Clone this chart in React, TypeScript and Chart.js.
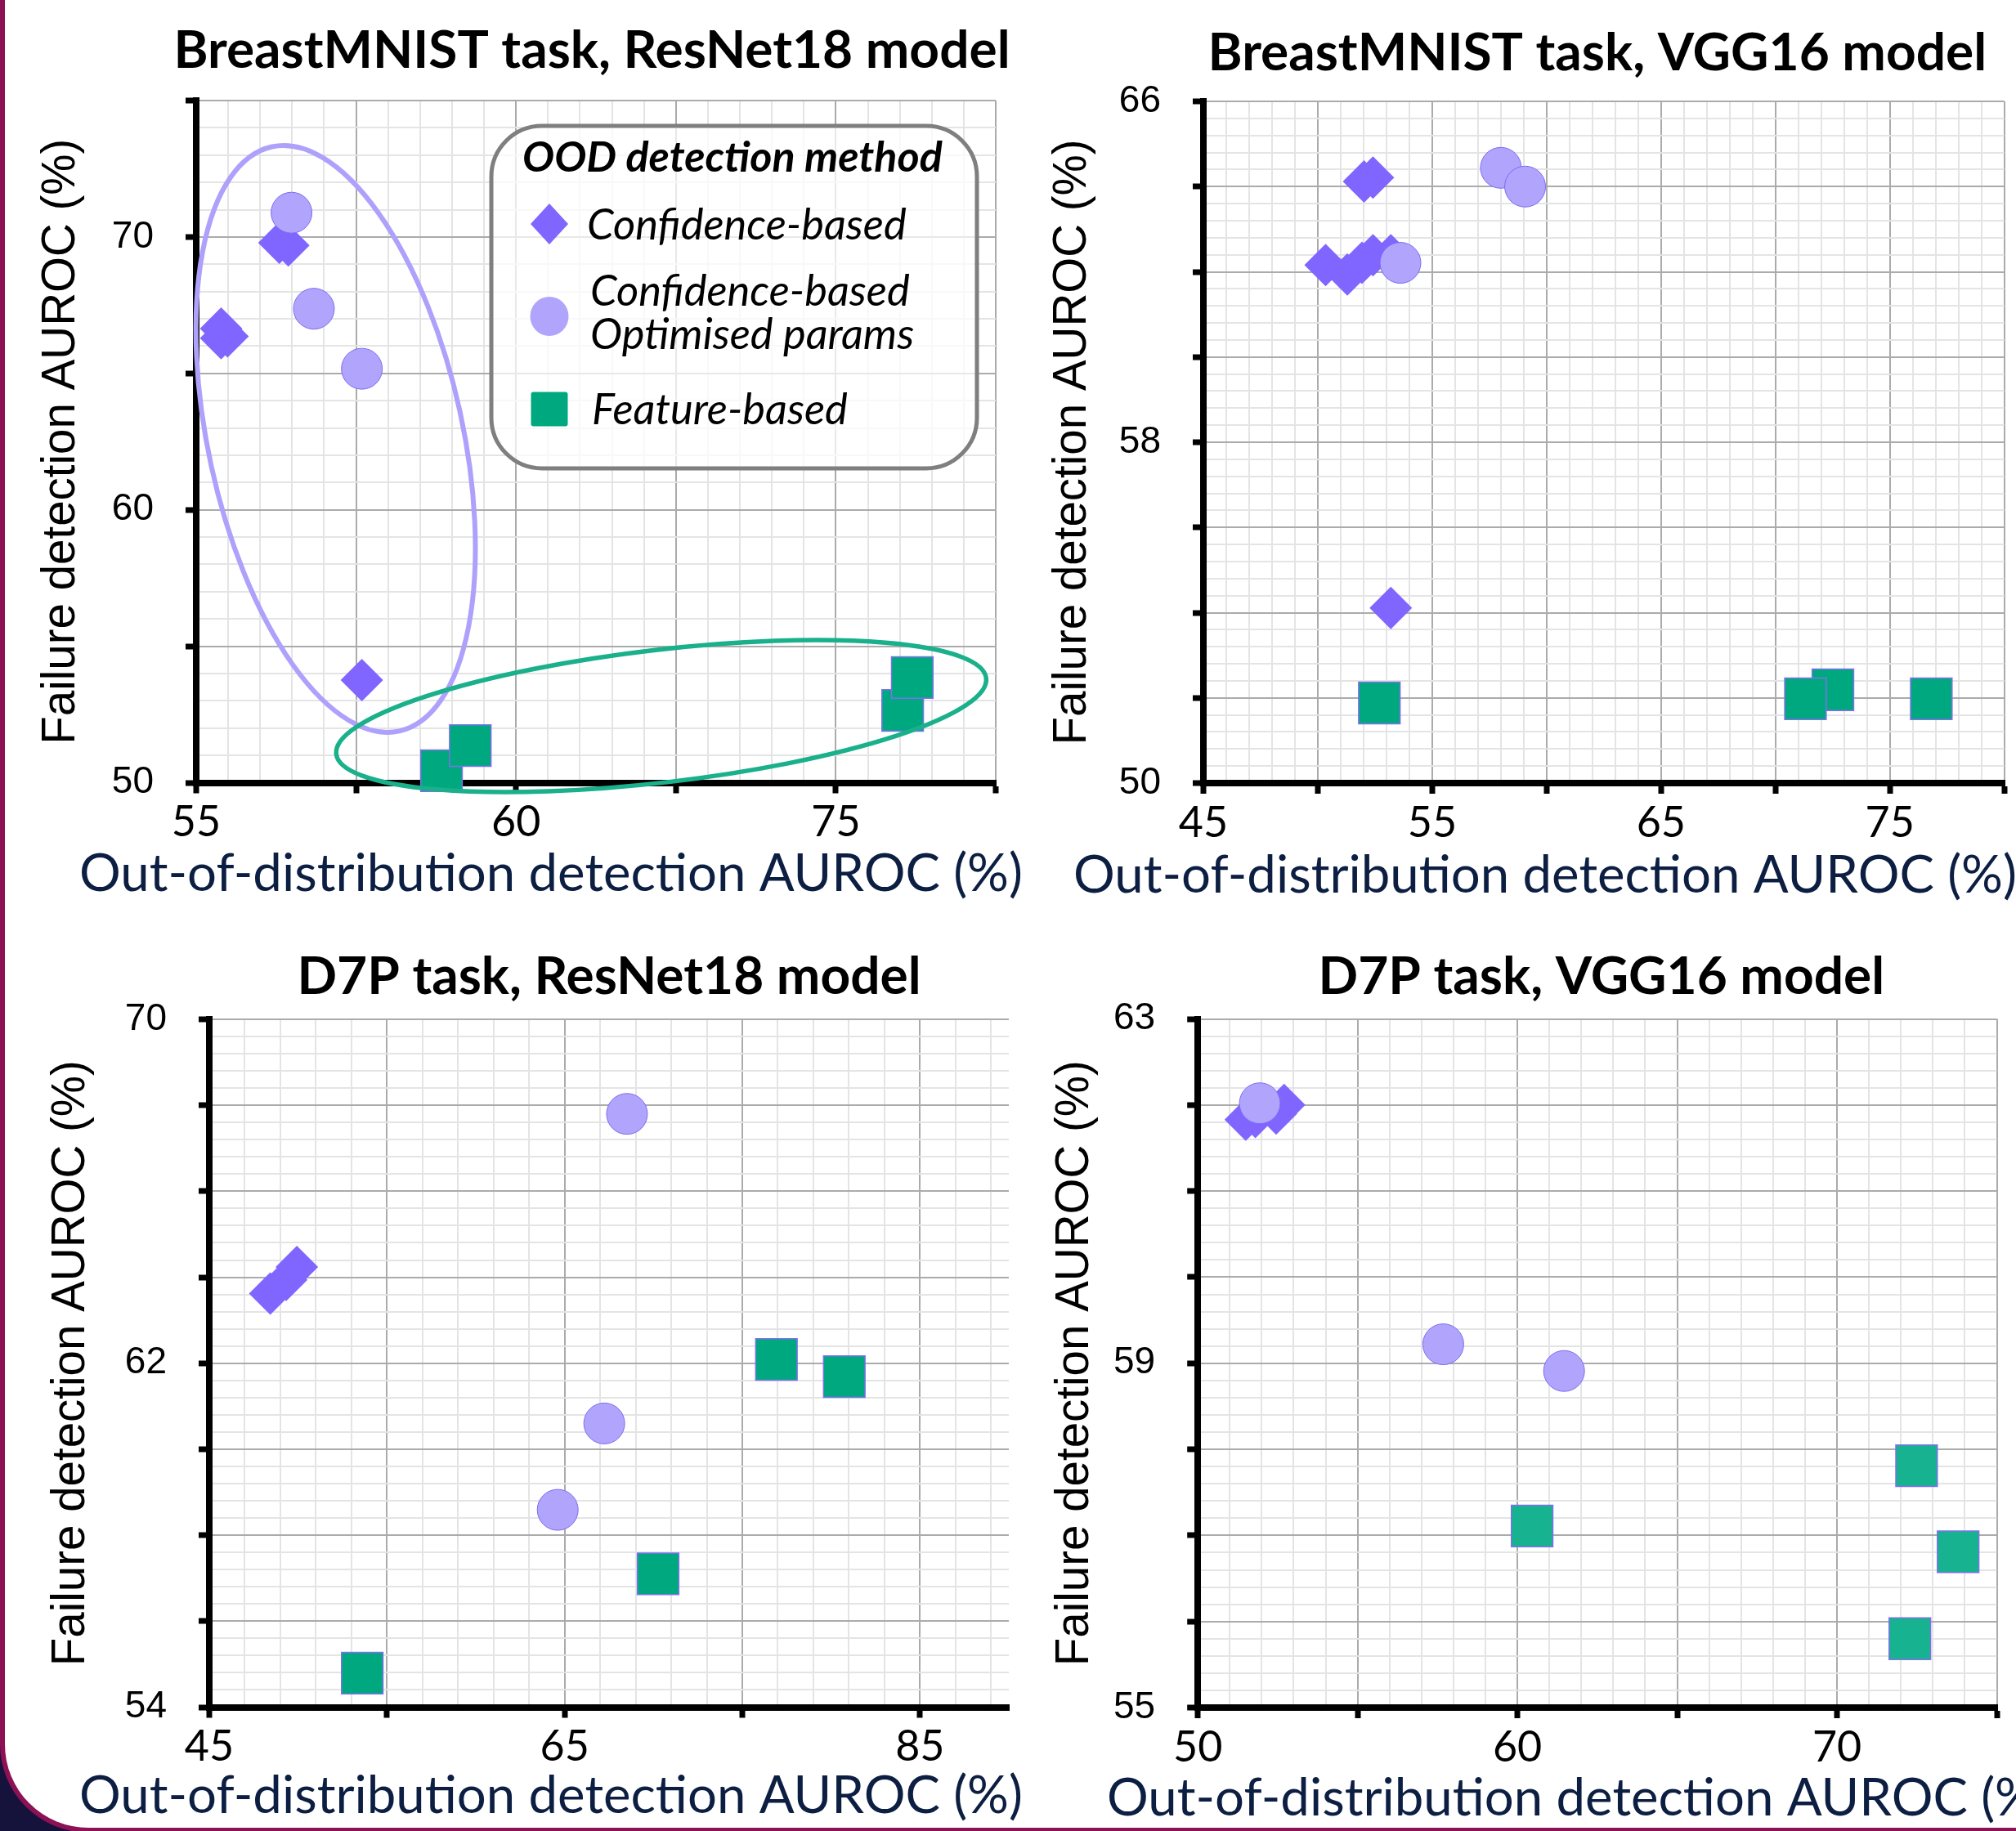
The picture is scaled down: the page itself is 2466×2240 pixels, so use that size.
import React, { useEffect, useRef } from "react";
import { Chart, registerables } from "chart.js";

Chart.register(...registerables);

// ---------------- Data ----------------
// BreastMNIST task, ResNet18 model
const A_CONF_X = [57.6, 57.88, 55.78, 55.78, 55.98, 60.18];
const A_CONF_Y = [69.79, 69.69, 66.64, 66.29, 66.36, 53.76];
const A_OPT_X = [57.98, 58.68, 60.18];
const A_OPT_Y = [70.89, 67.37, 65.17];
const A_FEAT_X = [62.67, 63.57, 77.09, 77.39];
const A_FEAT_Y = [50.44, 51.36, 52.65, 53.85];
const A_X_LABELS = ["55", "", "60", "", "75", ""];
const A_Y_LABELS = ["50", "", "60", "", "70", ""];

// BreastMNIST task, VGG16 model
const B_CONF_X = [52.02, 52.41, 50.34, 51.29, 51.93, 52.41, 53.19, 53.19];
const B_CONF_Y = [64.12, 64.21, 62.16, 61.94, 62.21, 62.39, 62.39, 54.11];
const B_OPT_X = [58.0, 59.06, 53.61];
const B_OPT_Y = [64.44, 64.0, 62.21];
const B_FEAT_X = [52.69, 72.51, 71.31, 76.81];
const B_FEAT_Y = [51.88, 52.19, 51.98, 51.98];
const B_X_LABELS = ["45", "", "55", "", "65", "", "75", ""];
const B_Y_LABELS = ["50", "", "", "", "58", "", "", "", "66"];

// D7P task, ResNet18 model
const C_CONF_X = [48.43, 49.33, 49.93];
const C_CONF_Y = [63.62, 63.94, 64.24];
const C_OPT_X = [68.51, 67.23, 64.61];
const C_OPT_Y = [67.8, 60.6, 58.59];
const C_FEAT_X = [76.92, 80.74, 70.26, 53.61];
const C_FEAT_Y = [62.09, 61.69, 57.1, 54.79];
const C_X_LABELS = ["45", "", "65", "", "85"];
const C_Y_LABELS = ["54", "", "", "", "62", "", "", "", "70"];

// D7P task, VGG16 model
const D_CONF_X = [51.5, 51.8, 52.45, 52.7];
const D_CONF_Y = [61.83, 61.86, 61.9, 62.0];
const D_OPT_X = [51.94, 57.68, 61.46];
const D_OPT_Y = [62.02, 59.22, 58.91];
const D_FEAT_X = [72.49, 60.46, 73.79, 72.28];
const D_FEAT_Y = [57.81, 57.11, 56.81, 55.8];
const D_X_LABELS = ["50", "", "60", "", "70", ""];
const D_Y_LABELS = ["55", "", "", "", "59", "", "", "", "63"];

const SERIES_NAMES = ["Confidence-based", "Confidence-based\nOptimised params", "Feature-based"];

// ---------------- Styles ----------------
const C_DIAMOND = "#8066ff";
const C_CIRCLE = "#b0a4fc";
const C_CIRCLE_EDGE = "#7b6cf2";
const C_SQUARE = "#00a87f";
const C_SQUARE_LIGHT = "#17b28f";
const C_SQUARE_EDGE = "#7f70ee";
const GRID_MAJOR = "#ababab";
const GRID_MINOR = "#e4e4e4";
const NAVY = "#0c1e42";

type AxisSpec = { min: number; max: number; major: number; minor: number; labels: string[] };

type Panel = {
  id: string;
  title: string;
  titleShift: number;
  x: AxisSpec;
  y: AxisSpec;
  conf: [number[], number[]];
  opt: [number[], number[]];
  feat: [number[], number[]];
  featColor: string;
  area: { left: number; right: number; top: number; bottom: number };
  titleBaseline: number;
  yTitleMid: number;
  xTitle: { left: number; baseline: number };
  ellipses?: any[];
  legend?: boolean;
};

const CANVAS_W = 2466;
const CANVAS_H = 2240;

const PANELS: Panel[] = [
  {
    id: "A",
    title: "BreastMNIST task, ResNet18 model",
    titleShift: -5,
    x: { min: 55, max: 80, major: 5, minor: 1, labels: A_X_LABELS },
    y: { min: 50, max: 75, major: 5, minor: 1, labels: A_Y_LABELS },
    conf: [A_CONF_X, A_CONF_Y],
    opt: [A_OPT_X, A_OPT_Y],
    feat: [A_FEAT_X, A_FEAT_Y],
    featColor: C_SQUARE,
    area: { left: 240, right: 1218, top: 123, bottom: 957.5 },
    titleBaseline: 83,
    yTitleMid: 75,
    xTitle: { left: 97, baseline: 1090 },
    ellipses: [
      { cx: 59.36, cy: 62.6, rx: 3.98, ry: 10.96, rot: -12.3, color: "#aea1fb", width: 6 },
      { cx: 69.54, cy: 52.44, rx: 10.23, ry: 2.43, rot: -6.66, color: "#19b08b", width: 5.5 },
    ],
    legend: true,
  },
  {
    id: "B",
    title: "BreastMNIST task, VGG16 model",
    titleShift: -8,
    x: { min: 45, max: 80, major: 5, minor: 1, labels: B_X_LABELS },
    y: { min: 50, max: 66, major: 2, minor: 0.4, labels: B_Y_LABELS },
    conf: [B_CONF_X, B_CONF_Y],
    opt: [B_OPT_X, B_OPT_Y],
    feat: [B_FEAT_X, B_FEAT_Y],
    featColor: C_SQUARE,
    area: { left: 1472, right: 2451.7, top: 124, bottom: 958 },
    titleBaseline: 85.6,
    yTitleMid: 1312.4,
    xTitle: { left: 1313, baseline: 1091.7 },
  },
  {
    id: "C",
    title: "D7P task, ResNet18 model",
    titleShift: 0,
    x: { min: 45, max: 90, major: 10, minor: 2, labels: C_X_LABELS },
    y: { min: 54, max: 70, major: 2, minor: 0.4, labels: C_Y_LABELS },
    conf: [C_CONF_X, C_CONF_Y],
    opt: [C_OPT_X, C_OPT_Y],
    feat: [C_FEAT_X, C_FEAT_Y],
    featColor: C_SQUARE,
    area: { left: 256, right: 1234, top: 1247, bottom: 2088.5 },
    titleBaseline: 1216.4,
    yTitleMid: 87.3,
    xTitle: { left: 97, baseline: 2218.3 },
  },
  {
    id: "D",
    title: "D7P task, VGG16 model",
    titleShift: 5,
    x: { min: 50, max: 75, major: 5, minor: 1, labels: D_X_LABELS },
    y: { min: 55, max: 63, major: 1, minor: 0.2, labels: D_Y_LABELS },
    conf: [D_CONF_X, D_CONF_Y],
    opt: [D_OPT_X, D_OPT_Y],
    feat: [D_FEAT_X, D_FEAT_Y],
    featColor: C_SQUARE_LIGHT,
    area: { left: 1465.2, right: 2442.5, top: 1246.5, bottom: 2089 },
    titleBaseline: 1216.4,
    yTitleMid: 1315.5,
    xTitle: { left: 1354, baseline: 2220.7 },
  },
];

// ---------------- Helpers ----------------
function buildTicks(a: AxisSpec) {
  const n = Math.floor((a.max - a.min) / a.minor + 1e-9);
  const t: { value: number }[] = [];
  for (let i = 0; i <= n; i++) t.push({ value: +(a.min + i * a.minor).toFixed(6) });
  return t;
}
function majorIndex(a: AxisSpec, v: number) {
  const k = (v - a.min) / a.major;
  const r = Math.round(k);
  return Math.abs(k - r) < 1e-6 ? r : -1;
}

const TITLE_SIZE = 64;
const YTITLE_SIZE = 56.5;
const X_AXIS_H = 100;

function drawDiamond(ctx: CanvasRenderingContext2D, x: number, y: number, hw: number, hh: number) {
  ctx.beginPath();
  ctx.moveTo(x, y - hh);
  ctx.lineTo(x + hw, y);
  ctx.lineTo(x, y + hh);
  ctx.lineTo(x - hw, y);
  ctx.closePath();
  ctx.fill();
}

const decoPlugin = {
  id: "deco",
  afterDatasetsDraw(chart: any, _args: any, opts: any) {
    const ctx: CanvasRenderingContext2D = chart.ctx;
    const xs = chart.scales.x;
    const ys = chart.scales.y;
    const ca = chart.chartArea;
    for (const e of opts.ellipses || []) {
      const cx = xs.getPixelForValue(e.cx);
      const cy = ys.getPixelForValue(e.cy);
      const pxX = Math.abs(xs.getPixelForValue(e.cx + 1) - cx);
      const pxY = Math.abs(ys.getPixelForValue(e.cy + 1) - cy);
      ctx.save();
      ctx.beginPath();
      ctx.ellipse(cx, cy, e.rx * pxX, e.ry * pxY, (e.rot * Math.PI) / 180, 0, Math.PI * 2);
      ctx.strokeStyle = e.color;
      ctx.lineWidth = e.width;
      ctx.stroke();
      ctx.restore();
    }
    if (opts.legend) {
      const bx = ca.left + 361;
      const by = ca.top + 31;
      const bw = 594;
      const bh = 419;
      const r = 62;
      ctx.save();
      ctx.beginPath();
      ctx.moveTo(bx + r, by);
      ctx.lineTo(bx + bw - r, by);
      ctx.arcTo(bx + bw, by, bx + bw, by + r, r);
      ctx.lineTo(bx + bw, by + bh - r);
      ctx.arcTo(bx + bw, by + bh, bx + bw - r, by + bh, r);
      ctx.lineTo(bx + r, by + bh);
      ctx.arcTo(bx, by + bh, bx, by + bh - r, r);
      ctx.lineTo(bx, by + r);
      ctx.arcTo(bx, by, bx + r, by, r);
      ctx.closePath();
      ctx.fillStyle = "rgba(255,255,255,0.72)";
      ctx.fill();
      ctx.lineWidth = 5;
      ctx.strokeStyle = "#7f7f7f";
      ctx.stroke();

      ctx.fillStyle = "#000";
      ctx.textAlign = "left";
      ctx.textBaseline = "alphabetic";
      ctx.font = "italic bold 52px Lato";
      ctx.fillText("OOD detection method", bx + 38, by + 56);

      const ds = chart.data.datasets;
      const conf = ds.find((d: any) => d.pointStyle === "rectRot");
      const opt = ds.find((d: any) => d.pointStyle === "circle");
      const feat = ds.find((d: any) => d.pointStyle === "rect");
      const mx = bx + 71;
      ctx.fillStyle = conf.backgroundColor;
      drawDiamond(ctx, mx, by + 120, 23, 25);
      ctx.fillStyle = opt.backgroundColor;
      ctx.beginPath();
      ctx.ellipse(mx, by + 233, 23.5, 24, 0, 0, Math.PI * 2);
      ctx.fill();
      ctx.fillStyle = feat.backgroundColor;
      ctx.beginPath();
      if ((ctx as any).roundRect) (ctx as any).roundRect(mx - 22.5, by + 325.5, 45, 42, 3);
      else ctx.rect(mx - 22.5, by + 325.5, 45, 42);
      ctx.fill();

      ctx.fillStyle = "#000";
      ctx.font = "italic 52.5px Lato";
      ctx.fillText(conf.label, bx + 117, by + 139);
      const optLines = String(opt.label).split("\n");
      ctx.fillText(optLines[0], bx + 121, by + 220);
      ctx.fillText(optLines[1] || "", bx + 121, by + 273);
      ctx.fillText(feat.label, bx + 123, by + 365);
      ctx.restore();
    }
    ctx.save();
    ctx.textBaseline = "alphabetic";
    // chart title (centred over the plot area, allowed to be wider than it)
    if (opts.title) {
      ctx.fillStyle = "#000";
      ctx.font = `bold ${TITLE_SIZE}px Lato`;
      ctx.textAlign = "center";
      ctx.fillText(opts.title.text, (ca.left + ca.right) / 2 + opts.title.shift, opts.title.baseline);
    }
    // x-axis title
    if (opts.xTitle) {
      ctx.fillStyle = NAVY;
      ctx.font = "63.5px Lato";
      ctx.textAlign = "left";
      ctx.fillText(opts.xTitle.text, opts.xTitle.left, opts.xTitle.baseline);
    }
    ctx.restore();
  },
};

function axisOptions(a: AxisSpec, isX: boolean, yWidth: number, yTitlePad: number) {
  const isMaj = (c: any) => c && c.tick && majorIndex(a, c.tick.value) >= 0;
  const o: any = {
    type: "linear",
    position: isX ? "bottom" : "left",
    min: a.min,
    max: a.max,
    afterBuildTicks: (s: any) => {
      s.ticks = buildTicks(a);
    },
    afterFit: (s: any) => {
      if (isX) {
        s.height = X_AXIS_H;
        s.paddingLeft = 0;
        s.paddingRight = 0;
      } else {
        s.width = yWidth;
        s.paddingTop = 0;
        s.paddingBottom = 0;
      }
    },
    grid: {
      color: (c: any) => (isMaj(c) ? GRID_MAJOR : GRID_MINOR),
      lineWidth: 2,
      drawTicks: true,
      tickLength: 13,
      tickWidth: 7,
      tickColor: (c: any) => (isMaj(c) ? "#000" : "rgba(0,0,0,0)"),
    },
    border: { display: true, color: "#000", width: 8 },
    ticks: {
      autoSkip: false,
      maxRotation: 0,
      minRotation: 0,
      padding: isX ? 5 : 39,
      color: "#000",
      font: isX ? { family: "Lato", size: 52 } : { family: "Liberation Sans", size: 46 },
      callback: (v: number) => {
        const k = majorIndex(a, v);
        return k >= 0 ? a.labels[k] ?? "" : "";
      },
    },
  };
  if (!isX) {
    o.title = {
      display: true,
      text: "Failure detection AUROC (%)",
      color: "#000",
      font: { family: "Liberation Sans", size: YTITLE_SIZE },
      padding: { top: yTitlePad, bottom: 0 },
    };
  }
  return o;
}

function buildConfig(p: Panel): any {
  const toPts = (s: [number[], number[]]) => s[0].map((x, i) => ({ x, y: s[1][i] }));
  const padLeft = p.area.left > 1000 ? 1233 : 0;
  const yWidth = p.area.left - padLeft;
  const yTitlePad = p.yTitleMid - padLeft - (YTITLE_SIZE * 1.2) / 2;
  return {
    type: "scatter",
    data: {
      datasets: [
        {
          label: SERIES_NAMES[1],
          data: toPts(p.opt),
          pointStyle: "circle",
          pointRadius: 25,
          backgroundColor: C_CIRCLE,
          borderColor: C_CIRCLE_EDGE,
          borderWidth: 1,
          clip: false,
        },
        {
          label: SERIES_NAMES[0],
          data: toPts(p.conf),
          pointStyle: "rectRot",
          pointRadius: 26,
          backgroundColor: C_DIAMOND,
          borderColor: C_DIAMOND,
          borderWidth: 0,
          clip: false,
        },
        {
          label: SERIES_NAMES[2],
          data: toPts(p.feat),
          pointStyle: "rect",
          pointRadius: 35.9,
          backgroundColor: p.featColor,
          borderColor: C_SQUARE_EDGE,
          borderWidth: 1.5,
          clip: false,
        },
      ],
    },
    options: {
      responsive: false,
      animation: false,
      events: [],
      devicePixelRatio: 1,
      layout: {
        autoPadding: false,
        padding: {
          left: padLeft,
          top: p.area.top,
          right: CANVAS_W - p.area.right,
          bottom: CANVAS_H - p.area.bottom - X_AXIS_H,
        },
      },
      scales: {
        x: axisOptions(p.x, true, 0, 0),
        y: axisOptions(p.y, false, yWidth, yTitlePad),
      },
      plugins: {
        legend: { display: false },
        tooltip: { enabled: false },
        title: { display: false },
        deco: {
          ellipses: p.ellipses || [],
          legend: !!p.legend,
          title: { text: p.title, shift: p.titleShift, baseline: p.titleBaseline },
          xTitle: { text: "Out-of-distribution detection AUROC (%)", left: p.xTitle.left, baseline: p.xTitle.baseline },
        },
      },
    },
    plugins: [decoPlugin],
  };
}

function ChartCanvas({ panel }: { panel: Panel }) {
  const ref = useRef<HTMLCanvasElement | null>(null);
  useEffect(() => {
    if (!ref.current) return;
    const chart = new Chart(ref.current, buildConfig(panel));
    return () => chart.destroy();
  }, [panel]);
  return (
    <canvas
      ref={ref}
      width={CANVAS_W}
      height={CANVAS_H}
      style={{ position: "absolute", left: 0, top: 0, width: CANVAS_W, height: CANVAS_H }}
    />
  );
}

export default function App() {
  return (
    <div
      style={{
        position: "absolute",
        left: 0,
        top: 0,
        width: CANVAS_W,
        height: CANVAS_H,
        overflow: "hidden",
        background: "#15133b",
      }}
    >
      <div
        style={{
          position: "absolute",
          left: 0,
          top: -20,
          width: 2600,
          height: 2262,
          boxSizing: "border-box",
          background: "#ffffff",
          borderLeft: "6px solid #8c1155",
          borderBottom: "6px solid #8c1155",
          borderBottomLeftRadius: 108,
        }}
      />
      {PANELS.map((p) => (
        <ChartCanvas key={p.id} panel={p} />
      ))}
    </div>
  );
}
